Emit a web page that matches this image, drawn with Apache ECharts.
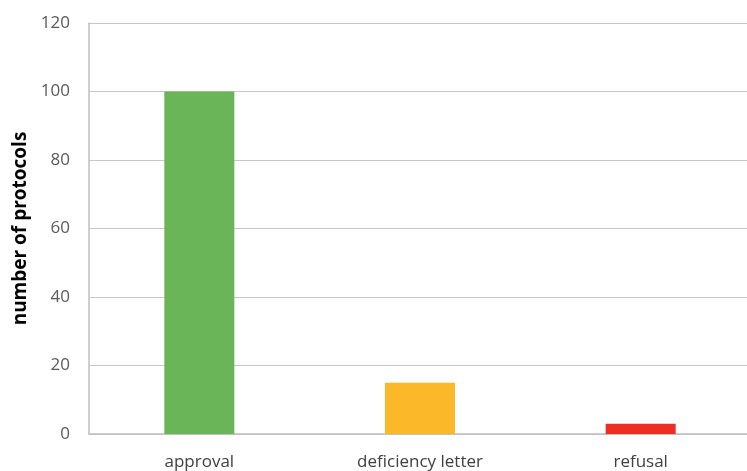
<!DOCTYPE html>
<html><head><meta charset="utf-8">
<script src="https://cdn.jsdelivr.net/npm/echarts@6/dist/echarts.min.js"></script>
<style>html,body{margin:0;padding:0;background:#fff;overflow:hidden}#c{width:760px;height:471px}</style>
</head><body><div id="c"></div>
<script>
const categories = ['approval', 'deficiency letter', 'refusal'];
const values = [100, 15, 3];
const barColors = ['#6AB557', '#FBB92A', '#EE2E24'];
const yTicks = { min: 0, max: 120, interval: 20 };

const chart = echarts.init(document.getElementById('c'));
chart.setOption({
  animation: false,
  grid: { left: 89, width: 662, top: 23, height: 411 },
  xAxis: {
    type: 'category', data: categories,
    axisLine: { lineStyle: { color: '#BFBFBF', width: 1.5 } },
    axisTick: { show: false },
    axisLabel: { color: '#404040', fontSize: 17, fontFamily: 'Open Sans', margin: 20 }
  },
  yAxis: {
    type: 'value', min: yTicks.min, max: yTicks.max, interval: yTicks.interval,
    name: 'number of protocols', nameLocation: 'middle', nameGap: 56,
    nameTextStyle: { fontSize: 19, fontWeight: 'bold', color: '#000', fontFamily: 'Open Sans' },
    axisLine: { show: true, lineStyle: { color: '#BFBFBF', width: 1.5 } },
    axisTick: { show: false },
    splitLine: { lineStyle: { color: '#C8C8C8', width: 1.2 } },
    axisLabel: { color: '#595959', fontSize: 17, fontFamily: 'Open Sans', margin: 19 }
  },
  series: [{
    type: 'bar', barWidth: 70,
    data: values.map((v, i) => ({ value: v, itemStyle: { color: barColors[i] } }))
  }]
});
</script></body></html>
